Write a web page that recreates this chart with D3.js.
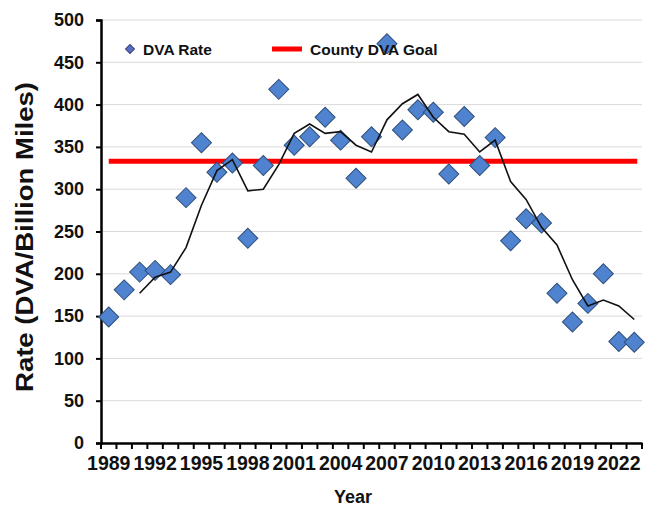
<!DOCTYPE html>
<html>
<head>
<meta charset="utf-8">
<script src="https://cdn.jsdelivr.net/npm/d3@7"></script>
<style>
  body { margin: 0; background: #fff; }
  text { font-family: Arial, "Liberation Sans", sans-serif; font-weight: bold; fill: #111; }
</style>
</head>
<body>
<div id="chart"></div>
<script>
// data
var years = [1989,1990,1991,1992,1993,1994,1995,1996,1997,1998,1999,2000,2001,2002,2003,2004,2005,2006,
             2007,2008,2009,2010,2011,2012,2013,2014,2015,2016,2017,2018,2019,2020,2021,2022,2023];
var dvaRate = [149,181,202,204,199,290,355,320,331,242,328,418,352,362,385,358,313,362,
               472,370,394,391,318,386,328,361,239,265,260,177,143,165,200,120,119];
// 3-year trend line (starts at 1991)
var trendYears = years.slice(2);
var trendRate = [177,196,202,231,281,322,335,298,300,329,366,377,366,368,352,344,
                 382,401,412,385,368,365,344,358,309,288,255,234,193,162,169,162,146];
var countyGoal = 333;
var yTicks = [0,50,100,150,200,250,300,350,400,450,500];
var xLabelYears = [1989,1992,1995,1998,2001,2004,2007,2010,2013,2016,2019,2022];

var width = 656, height = 506;
var margin = {top: 20, right: 14, bottom: 63, left: 101};

var svg = d3.select("#chart").append("svg")
    .attr("width", width)
    .attr("height", height);

var x = d3.scaleBand()
    .domain(years)
    .range([margin.left, width - margin.right]);

var y = d3.scaleLinear()
    .domain([0, 500])
    .range([height - margin.bottom, margin.top]);

function cx(d) { return x(d) + x.bandwidth() / 2; }

// gridlines
svg.append("g").selectAll("line")
  .data(yTicks.filter(function(d) { return d > 0; }))
  .enter().append("line")
    .attr("x1", margin.left)
    .attr("x2", width - margin.right)
    .attr("y1", function(d) { return y(d); })
    .attr("y2", function(d) { return y(d); })
    .attr("stroke", "#dadada")
    .attr("stroke-width", 1);

// y axis
var yAxis = svg.append("g")
    .attr("transform", "translate(" + margin.left + ",0)")
    .call(d3.axisLeft(y).tickValues(yTicks).tickSize(5).tickPadding(12));
yAxis.select(".domain").attr("stroke", "#000").attr("stroke-width", 2.5);
yAxis.selectAll(".tick line").attr("stroke", "#000").attr("stroke-width", 2);
yAxis.selectAll("text").style("font-size", "18px").attr("font-family", null);

// x axis: ticks between categories, labels every 3 years
var xAxis = svg.append("g")
    .attr("transform", "translate(0," + (height - margin.bottom) + ")")
    .call(d3.axisBottom(x).tickSize(0).tickFormat(function(d) {
        return xLabelYears.indexOf(d) >= 0 ? d : "";
    }).tickPadding(13));
xAxis.select(".domain").attr("stroke", "#000").attr("stroke-width", 2.5);
xAxis.selectAll("text").style("font-size", "19.5px").attr("font-family", null);

xAxis.selectAll(".sep")
  .data(years.concat(["end"]))
  .enter().append("line")
    .attr("class", "sep")
    .attr("x1", function(d) { return d === "end" ? width - margin.right : x(d); })
    .attr("x2", function(d) { return d === "end" ? width - margin.right : x(d); })
    .attr("y1", 0)
    .attr("y2", 6)
    .attr("stroke", "#000")
    .attr("stroke-width", 2);

// county goal
svg.append("line")
    .attr("x1", cx(years[0]))
    .attr("x2", cx(years[years.length - 1]) + 3)
    .attr("y1", y(countyGoal))
    .attr("y2", y(countyGoal))
    .attr("stroke", "#ff0000")
    .attr("stroke-width", 5);

// diamonds
var diamond = d3.symbol().type(d3.symbolSquare).size(200);
svg.append("g").selectAll("path")
  .data(years)
  .enter().append("path")
    .attr("d", diamond)
    .attr("transform", function(d, i) {
        return "translate(" + cx(d) + "," + y(dvaRate[i]) + ") rotate(45)";
    })
    .attr("fill", "#4f83cf")
    .attr("stroke", "#2f4e7a")
    .attr("stroke-width", 1);

// trend line
var line = d3.line()
    .x(function(d) { return cx(d[0]); })
    .y(function(d) { return y(d[1]); });

svg.append("path")
    .datum(d3.zip(trendYears, trendRate))
    .attr("d", line)
    .attr("fill", "none")
    .attr("stroke", "#111")
    .attr("stroke-width", 1.6);

// legend
var legend = svg.append("g");
legend.append("path")
    .attr("d", d3.symbol().type(d3.symbolSquare).size(40))
    .attr("transform", "translate(130,49) rotate(45)")
    .attr("fill", "#5a6fc4")
    .attr("stroke", "#3a3f7a");
legend.append("text")
    .attr("x", 143).attr("y", 55)
    .style("font-size", "15.5px")
    .text("DVA Rate");
legend.append("line")
    .attr("x1", 272).attr("x2", 302)
    .attr("y1", 49).attr("y2", 49)
    .attr("stroke", "#ff0000")
    .attr("stroke-width", 5);
legend.append("text")
    .attr("x", 310).attr("y", 55)
    .style("font-size", "15.5px")
    .text("County DVA Goal");

// axis titles
svg.append("text")
    .attr("transform", "translate(33,237) rotate(-90)")
    .attr("text-anchor", "middle")
    .attr("textLength", 310)
    .attr("lengthAdjust", "spacingAndGlyphs")
    .style("font-size", "24px")
    .text("Rate (DVA/Billion Miles)");

svg.append("text")
    .attr("x", 353).attr("y", 503)
    .attr("text-anchor", "middle")
    .style("font-size", "18px")
    .text("Year");
</script>
</body>
</html>
